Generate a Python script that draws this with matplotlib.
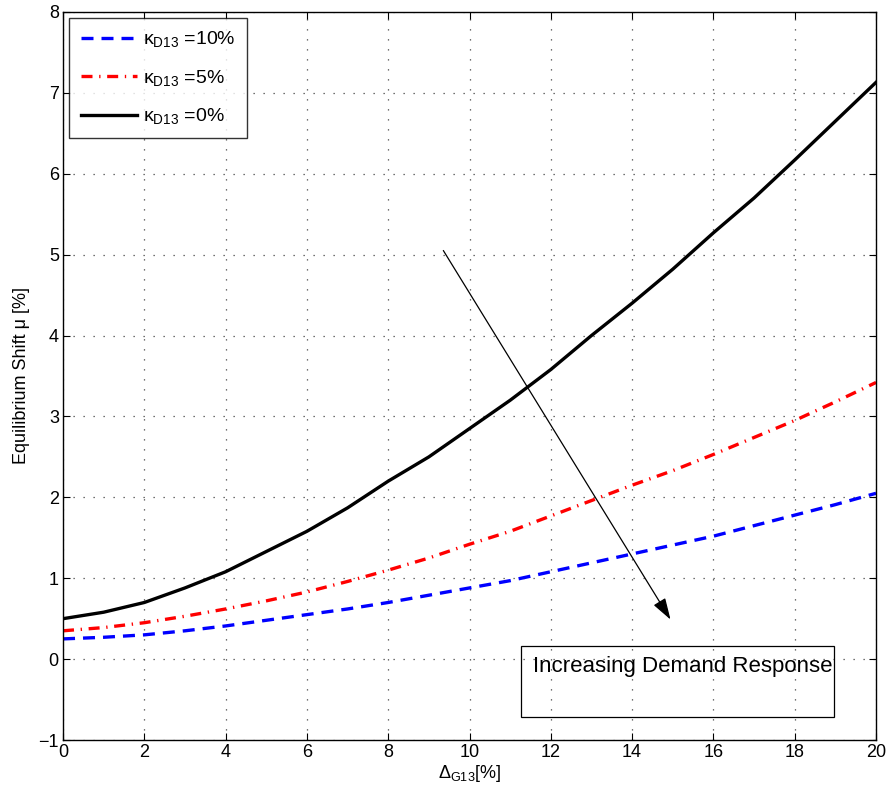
import matplotlib as mpl
mpl.use('Agg')
import matplotlib.pyplot as plt
from matplotlib.patches import Rectangle
import numpy as np

plt.rcParams['font.family'] = ['Liberation Sans', 'DejaVu Sans']
plt.rcParams['mathtext.fontset'] = 'custom'
plt.rcParams['mathtext.rm'] = 'Liberation Sans'
plt.rcParams['mathtext.it'] = 'Liberation Sans'
plt.rcParams['font.size'] = 12

# data
delta_g = [0, 1, 2, 3, 4, 5, 6, 7, 8, 9, 10, 11, 12, 13, 14, 15, 16, 17, 18, 19, 20]
mu_k10 = [0.25, 0.27, 0.30, 0.35, 0.41, 0.48, 0.55, 0.62, 0.70, 0.79, 0.88,
          0.97, 1.08, 1.19, 1.30, 1.41, 1.52, 1.65, 1.78, 1.91, 2.05]
mu_k5 = [0.35, 0.39, 0.45, 0.53, 0.62, 0.72, 0.83, 0.96, 1.10, 1.25, 1.42,
         1.58, 1.77, 1.96, 2.15, 2.33, 2.53, 2.74, 2.95, 3.18, 3.42]
mu_k0 = [0.50, 0.58, 0.70, 0.88, 1.08, 1.33, 1.58, 1.87, 2.20, 2.50, 2.85,
         3.20, 3.58, 4.00, 4.40, 4.82, 5.27, 5.70, 6.17, 6.65, 7.13]
labels = ['κ$_{D13}$ =10%', 'κ$_{D13}$ =5%', 'κ$_{D13}$ =0%']
xticks = list(range(0, 21, 2))
yticks = list(range(-1, 9))


def plot():
    fig = plt.figure(figsize=(8.89, 7.97), dpi=100)
    ax = fig.add_axes([0.0709, 0.0715, 0.9145, 0.9135])

    ax.plot(delta_g, mu_k10, color='blue', lw=2.4, ls=(0, (3.6, 2.4)), label=labels[0])
    ax.plot(delta_g, mu_k5, color='red', lw=2.4, ls=(0, (3.3, 2.0, 0.4, 2.0)), label=labels[1])
    ax.plot(delta_g, mu_k0, color='black', lw=2.4, ls='-', label=labels[2])

    ax.set_xlim(0, 20)
    ax.set_ylim(-1, 8)
    ax.set_xticks(xticks)
    ax.set_yticks(yticks)
    ax.set_yticklabels([str(v).replace('-', '\u2212') for v in yticks])
    ax.tick_params(direction='in', length=5, width=0.8, labelsize=13, top=True, right=True, pad=3)
    ax.grid(True, ls=(0, (1, 7)), color='#444444', lw=0.9)
    for s in ax.spines.values():
        s.set_linewidth(1.0)

    ax.set_xlabel('$\\Delta_{G13}$[%]', fontsize=13, labelpad=1)
    ax.set_ylabel('Equilibrium Shift μ [%]', fontsize=13, labelpad=6)

    leg = ax.legend(loc='upper left', fontsize=14, frameon=True, fancybox=False,
                    edgecolor='black', handlelength=2.9, labelspacing=0.95,
                    borderaxespad=0.3, handletextpad=0.3, borderpad=0.6)
    leg.get_frame().set_linewidth(1.0)

    # arrow annotation
    ax.annotate('', xy=(14.98, 0.46), xytext=(9.32, 5.08),
                arrowprops=dict(arrowstyle='-|>,head_length=1.1,head_width=0.35',
                                color='black', lw=0.9))

    # text box
    ax.add_patch(Rectangle((11.27, -0.72), 7.7, 0.88, fill=False,
                           edgecolor='black', lw=0.9, zorder=5))
    ax.text(11.55, -0.09, 'Increasing Demand Response', fontsize=16,
            ha='left', va='center', zorder=6)

    return fig, ax


def main():
    fig, ax = plot()
    fig.savefig('out.png', dpi=100)


if __name__ == '__main__':
    main()
